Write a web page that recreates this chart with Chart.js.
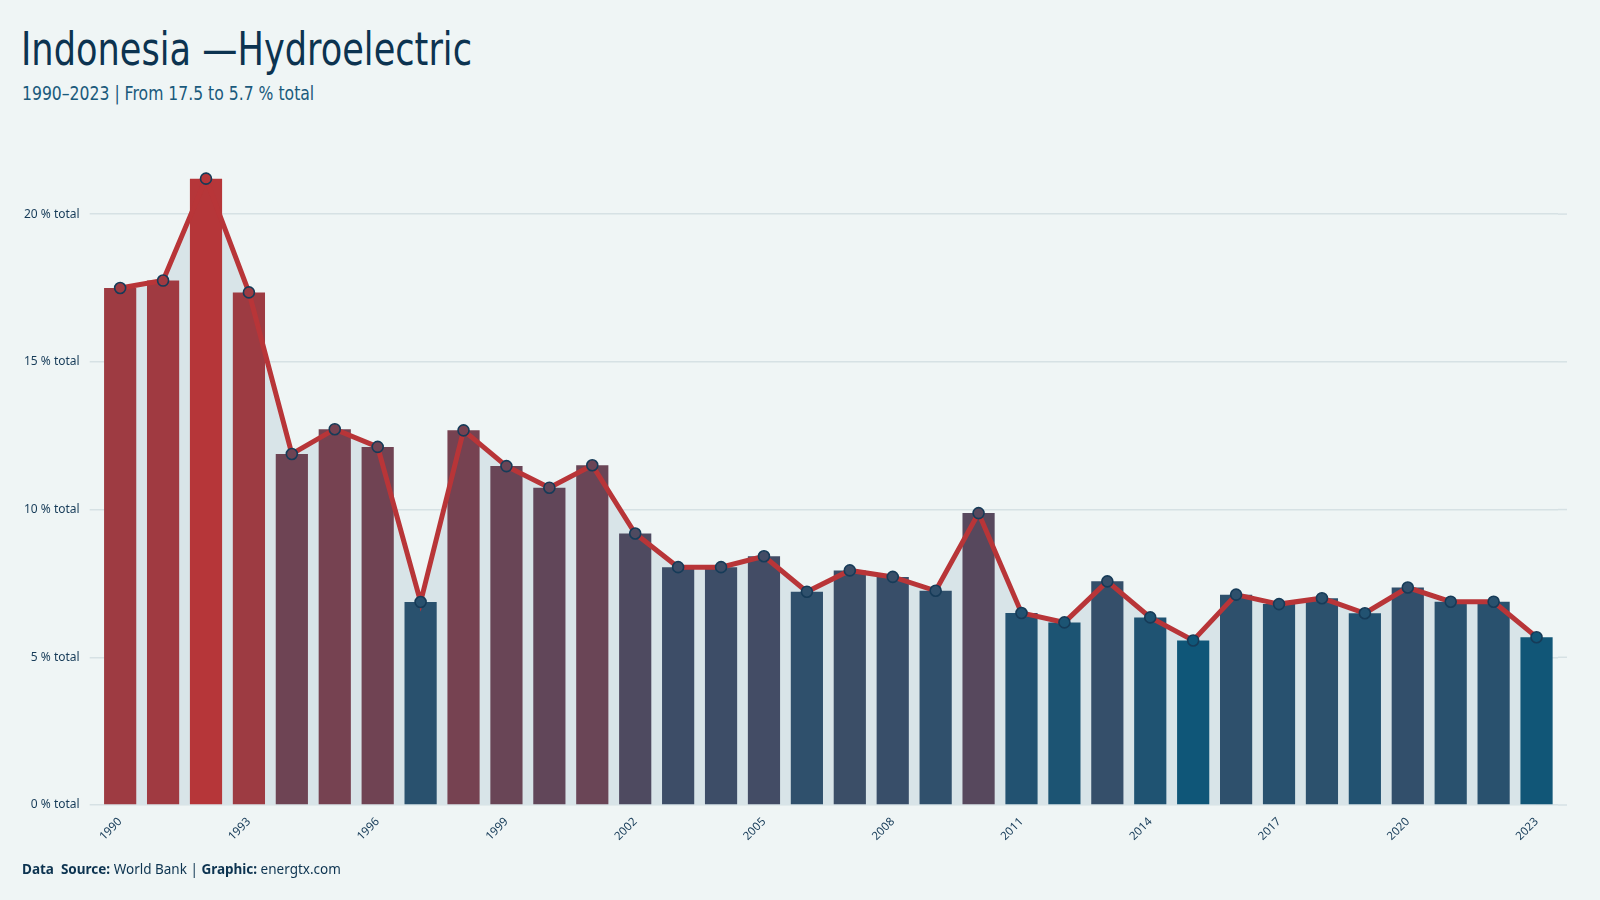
<!DOCTYPE html>
<html>
<head>
<meta charset="utf-8">
<script src="https://cdn.jsdelivr.net/npm/chart.js@4.4.1/dist/chart.umd.min.js"></script>
<style>
  html, body { margin: 0; padding: 0; background: #eff5f5; }
  #wrap { position: relative; width: 1600px; height: 900px; overflow: hidden; }
  #chart-box { position: absolute; left: 0; top: 0; width: 1600px; height: 900px; }
  .title { position: absolute; left: 21px; top: 23px; font-family: "DejaVu Sans Condensed", "DejaVu Sans", sans-serif; font-stretch: condensed; font-size: 46px; line-height: 52px; color: #0c3350; transform: scaleX(0.85); transform-origin: left top; white-space: nowrap; }
  .subtitle { position: absolute; left: 22px; top: 81px; font-family: "DejaVu Sans", sans-serif; font-size: 19px; line-height: 24px; color: #1a5a7c; transform: scaleX(0.823); transform-origin: left top; white-space: nowrap; }
  .footer { position: absolute; left: 22px; top: 860px; font-family: "Noto Sans", sans-serif; font-size: 13.5px; line-height: 18px; color: #0c3350; }
  .footer b { font-weight: 700; }
</style>
</head>
<body>
<div id="wrap">
  <div class="title">Indonesia —Hydroelectric</div>
  <div class="subtitle">1990–2023 | From 17.5 to 5.7 % total</div>
  <div id="chart-box"><canvas id="hydroChart" width="1600" height="900"></canvas></div>
  <div class="footer"><b>Data&nbsp; Source:</b> World Bank | <b>Graphic:</b> energtx.com</div>
</div>

<script>
// --- data ---
const years = [
  '1990','1991','1992','1993','1994','1995','1996','1997','1998','1999',
  '2000','2001','2002','2003','2004','2005','2006','2007','2008','2009',
  '2010','2011','2012','2013','2014','2015','2016','2017','2018','2019',
  '2020','2021','2022','2023'
];
const hydroShare = [
  17.5, 17.75, 21.2, 17.35, 11.88, 12.72, 12.12, 6.87, 12.68, 11.47,
  10.74, 11.5, 9.19, 8.05, 8.05, 8.42, 7.22, 7.94, 7.72, 7.25,
  9.88, 6.5, 6.18, 7.57, 6.35, 5.57, 7.12, 6.8, 7.0, 6.49,
  7.36, 6.88, 6.88, 5.68
];
const yTicks = [0, 5, 10, 15, 20];

// --- bar colour: blue (low) -> red (high), log scale on value ---
const lowColor = [15, 86, 120];
const highColor = [182, 54, 57];
const vMin = Math.min(...hydroShare);
const vMax = Math.max(...hydroShare);

function valueColor(v) {
  const t = Math.log(v / vMin) / Math.log(vMax / vMin);
  const c = lowColor.map((lo, i) => Math.round(lo + (highColor[i] - lo) * t));
  return `rgb(${c[0]},${c[1]},${c[2]})`;
}
const barColors = hydroShare.map(valueColor);

// gridlines run a little past the last bar on the right
const gridExtend = {
  id: 'gridExtend',
  beforeDatasetsDraw(chart) {
    const { ctx, chartArea, scales } = chart;
    ctx.save();
    ctx.strokeStyle = '#d6e1e4';
    ctx.lineWidth = 1.5;
    yTicks.forEach(v => {
      const y = scales.y.getPixelForValue(v);
      ctx.beginPath();
      ctx.moveTo(chartArea.right, y);
      ctx.lineTo(chartArea.right + 9, y);
      ctx.stroke();
    });
    ctx.restore();
  }
};

const ctx = document.getElementById('hydroChart').getContext('2d');
new Chart(ctx, {
  data: {
    labels: years,
    datasets: [
      {
        type: 'line',
        data: hydroShare,
        borderColor: '#b83538',
        borderWidth: 5,
        tension: 0,
        fill: 'origin',
        backgroundColor: '#d8e4e8',
        pointRadius: 5.5,
        pointBorderWidth: 1.6,
        pointBorderColor: '#163b58',
        pointBackgroundColor: barColors,
        order: 0
      },
      {
        type: 'bar',
        data: hydroShare,
        backgroundColor: barColors,
        barPercentage: 0.75,
        categoryPercentage: 1,
        order: 1
      }
    ]
  },
  options: {
    responsive: false,
    animation: false,
    layout: { padding: { left: 0, top: 155, right: 42, bottom: 50 } },
    plugins: {
      legend: { display: false },
      tooltip: { enabled: false },
      filler: { drawTime: 'beforeDatasetsDraw' }
    },
    scales: {
      x: {
        offset: true,
        grid: { display: false },
        border: { display: false },
        afterFit: s => { s.height = 45; },
        ticks: {
          autoSkip: false,
          maxRotation: 45,
          minRotation: 45,
          padding: 2,
          color: '#163b58',
          font: { family: 'Noto Sans', size: 11.5 },
          callback: (val, i) => (i % 3 === 0 ? years[i] : '')
        }
      },
      y: {
        min: 0,
        max: 22,
        afterFit: s => { s.width = 98.7; },
        afterBuildTicks: s => { s.ticks = yTicks.map(v => ({ value: v })); },
        border: { display: false },
        grid: { color: '#d6e1e4', lineWidth: 1.5, drawTicks: true, tickLength: 9 },
        ticks: {
          padding: 10,
          color: '#163b58',
          font: { family: 'Noto Sans', size: 12 },
          callback: v => v + ' % total'
        }
      }
    }
  },
  plugins: [gridExtend]
});
</script>
</body>
</html>
